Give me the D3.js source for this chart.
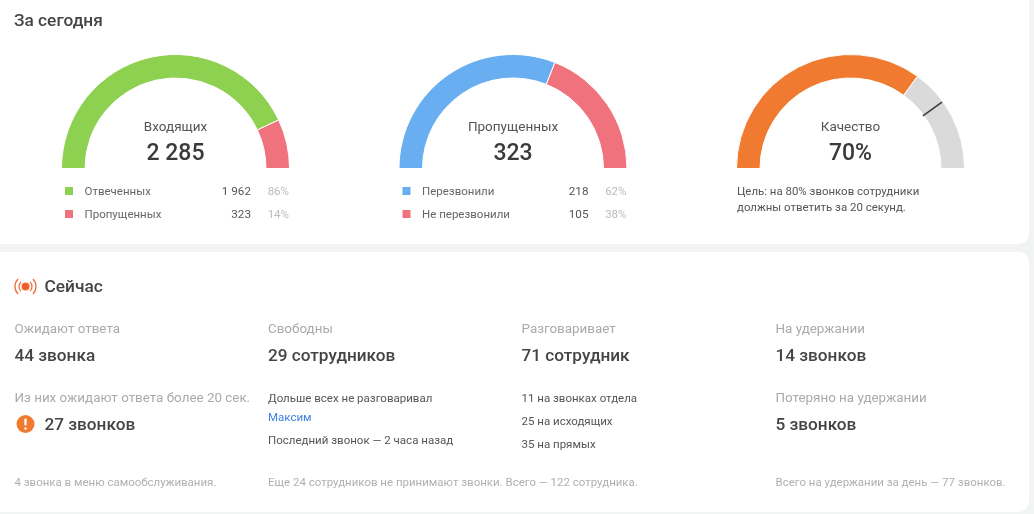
<!DOCTYPE html>
<html><head><meta charset="utf-8">
<style>html,body{margin:0;padding:0;background:#f2f4f4;overflow:hidden}svg{display:block;filter:blur(.45px)}text{font-family:Roboto,sans-serif}</style>
<script src="https://cdn.jsdelivr.net/npm/d3@7"></script></head><body>
<svg id="c" width="1034" height="514"></svg>
<script>
const gaugeTitles=["Входящих","Пропущенных","Качество"];
const gaugeTotals=["2 285","323","70%"];
const incomingPct=[86,14];
const missedPct=[62,38];
const qualityPct=[70,30];
const qualityTarget=80;
const incomingColors=["#8ed04f","#f0727d"];
const missedColors=["#68aef0","#f0727d"];
const qualityColors=["#ef7a30","#dadada"];
const incomingLegend=["Отвеченных","Пропущенных"];
const incomingCounts=["1 962","323"];
const missedLegend=["Перезвонили","Не перезвонили"];
const missedCounts=["218","105"];
const qualityNote=["Цель: на 80% звонков сотрудники","должны ответить за 20 секунд."];
const nowHeads=["Ожидают ответа","Свободны","Разговаривает","На удержании"];
const nowValues=["44 звонка","29 сотрудников","71 сотрудник","14 звонков"];
const footers=["4 звонка в меню самообслуживания.","Еще 24 сотрудников не принимают звонки. Всего — 122 сотрудника.","","Всего на удержании за день — 77 звонков."];
const talking=["11 на звонках отдела","25 на исходящих","35 на прямых"];

const svg=d3.select("#c");
const card=(x,y,w,h)=>svg.append("rect").attr("x",x).attr("y",y).attr("width",w).attr("height",h).attr("rx",10).attr("fill","#fff");
card(-12,-12,1041,256);card(-12,252,1041,260);
const T=(x,y,s,size,color,o={})=>svg.append("text").attr("x",x).attr("y",y).text(s).attr("font-size",size).attr("fill",color)
  .attr("text-anchor",o.a||"start").attr("font-weight",o.w||400);

T(14,26,"За сегодня",17.3,"#444",{w:500});

const R=114,r=90.5,baseY=168.5,centers=[175.5,513,850.5];
const angle=d3.scaleLinear().domain([0,100]).range([-Math.PI/2,Math.PI/2]);
const pie=d3.pie().sort(null).startAngle(-Math.PI/2).endAngle(Math.PI/2);
const arc=d3.arc().innerRadius(r).outerRadius(R);
[[incomingPct,incomingColors],[missedPct,missedColors],[qualityPct,qualityColors]].forEach(([v,c],i)=>{
  const g=svg.append("g").attr("transform",`translate(${centers[i]},${baseY})`);
  g.selectAll("path").data(pie(v)).join("path").attr("d",arc).attr("fill",(d,j)=>c[j]).attr("stroke","#fff").attr("stroke-width",1);
  T(centers[i],131,gaugeTitles[i],13.5,"#555",{a:"middle"});
  T(centers[i],160,gaugeTotals[i],23,"#3a3a3a",{a:"middle",w:500});
});
const ta=angle(qualityTarget);
svg.append("line").attr("x1",centers[2]+(r-1)*Math.sin(ta)).attr("y1",baseY-(r-1)*Math.cos(ta))
  .attr("x2",centers[2]+(R-1)*Math.sin(ta)).attr("y2",baseY-(R-1)*Math.cos(ta)).attr("stroke","#3c3c3c").attr("stroke-width",1.6);

const rowsY=[191,214];
const legend=(x0,labels,counts,pcts,cols)=>labels.forEach((l,i)=>{
  svg.append("rect").attr("x",x0+3).attr("y",rowsY[i]-4).attr("width",8).attr("height",8).attr("fill",cols[i]);
  T(x0+22.5,rowsY[i]+4,l,11.5,"#666");
  T(x0+189,rowsY[i]+4,counts[i],11.7,"#555",{a:"end"});
  T(x0+227,rowsY[i]+4,pcts[i]+"%",11.5,"#bbb",{a:"end"});
});
legend(62,incomingLegend,incomingCounts,incomingPct,incomingColors);
legend(399.5,missedLegend,missedCounts,missedPct,missedColors);
qualityNote.forEach((s,i)=>T(737,195+i*16,s,11.45,"#555"));

// Сейчас
const ic=svg.append("g").attr("transform","translate(25.5,286.5)").attr("fill","none").attr("stroke","#ef6f3a").attr("stroke-width",1.3).attr("stroke-linecap","round");
ic.append("circle").attr("r",3.4).attr("fill","#ef5a2a").attr("stroke",null);
[6.5,10.5].forEach(q=>{
  const a=d3.arc().innerRadius(q).outerRadius(q);
  ic.append("path").attr("d",a({startAngle:Math.PI*.25,endAngle:Math.PI*.75}));
  ic.append("path").attr("d",a({startAngle:-Math.PI*.25,endAngle:-Math.PI*.75}));
});
T(44.5,292,"Сейчас",17.3,"#444",{w:500});

const colX=[14.5,268,521.5,775.5];
nowHeads.forEach((s,i)=>T(colX[i],333,s,13.4,"#aaa"));
nowValues.forEach((s,i)=>T(colX[i],361,s,17.2,"#444",{w:500}));
footers.forEach((s,i)=>{if(s)T(colX[i],486,s,11.47,"#b0b0b0")});

T(14.5,402,"Из них ожидают ответа более 20 сек.",13.4,"#aaa");
svg.append("circle").attr("cx",25.5).attr("cy",424).attr("r",9).attr("fill","#ef7a30");
svg.append("rect").attr("x",24.4).attr("y",418.5).attr("width",2.2).attr("height",7).attr("rx",1).attr("fill","#fff");
svg.append("circle").attr("cx",25.5).attr("cy",428.5).attr("r",1.2).attr("fill","#fff");
T(44.5,430,"27 звонков",17.2,"#444",{w:500});

T(268,402,"Дольше всех не разговаривал",11.5,"#555");
T(268,421,"Максим",11.5,"#3f7fe0");
T(268,444,"Последний звонок — 2 часа назад",11.5,"#555");
talking.forEach((s,i)=>T(colX[2],402+i*23,s,11.5,"#555"));
T(colX[3],402,"Потеряно на удержании",13.4,"#aaa");
T(colX[3],430,"5 звонков",17.2,"#444",{w:500});
</script></body></html>
